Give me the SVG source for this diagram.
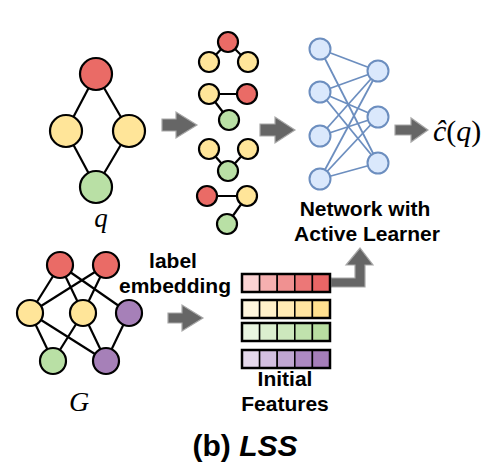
<svg xmlns="http://www.w3.org/2000/svg" width="495" height="465" viewBox="0 0 495 465">
<style>
.e{stroke:#000;stroke-width:2.2;fill:none}
.n{stroke:#000;stroke-width:2.2}
.r{fill:#ea6b66}.y{fill:#ffe599}.g{fill:#b9e0a5}.p{fill:#a680b8}
.nn{fill:#dae8fc;stroke:#6c8ebf;stroke-width:2}
.ne{stroke:#6c8ebf;stroke-width:1.8;fill:none}
.arr{fill:#666;stroke:#a8a8a8;stroke-width:1.2}
.t{font-family:"Liberation Sans",Arial,sans-serif;font-weight:bold;font-size:21px;fill:#000;text-anchor:middle}
.cap{font-size:30px}
.m{font-family:"Liberation Serif","Times New Roman",serif;font-style:italic;fill:#000}
.cell{stroke:#000;stroke-width:1.5}
.bar{fill:none;stroke:#000;stroke-width:2.5}
</style>
<rect width="495" height="465" fill="#fff"/>
<g id="connectors">
  <line class="e" x1="96" y1="74" x2="66" y2="131"/>
  <line class="e" x1="96" y1="74" x2="129" y2="131"/>
  <line class="e" x1="66" y1="131" x2="96" y2="187"/>
  <line class="e" x1="129" y1="131" x2="96" y2="187"/>
  <line class="e" x1="228" y1="42" x2="209" y2="62"/>
  <line class="e" x1="228" y1="42" x2="248" y2="62"/>
  <line class="e" x1="209" y1="94" x2="247" y2="94"/>
  <line class="e" x1="209" y1="94" x2="229" y2="120"/>
  <line class="e" x1="209" y1="149" x2="228" y2="171"/>
  <line class="e" x1="248" y1="149" x2="228" y2="171"/>
  <line class="e" x1="207" y1="196" x2="247" y2="196"/>
  <line class="e" x1="247" y1="196" x2="227" y2="224"/>
  <line class="ne" x1="320" y1="49" x2="378" y2="71"/>
  <line class="ne" x1="320" y1="49" x2="378" y2="163"/>
  <line class="ne" x1="320" y1="92" x2="378" y2="71"/>
  <line class="ne" x1="320" y1="92" x2="378" y2="117"/>
  <line class="ne" x1="320" y1="92" x2="378" y2="163"/>
  <line class="ne" x1="320" y1="136" x2="378" y2="71"/>
  <line class="ne" x1="320" y1="136" x2="378" y2="117"/>
  <line class="ne" x1="320" y1="179" x2="378" y2="71"/>
  <line class="ne" x1="320" y1="179" x2="378" y2="117"/>
  <line class="ne" x1="320" y1="179" x2="378" y2="163"/>
  <line class="e" x1="60" y1="265" x2="30" y2="313"/>
  <line class="e" x1="60" y1="265" x2="83" y2="313"/>
  <line class="e" x1="60" y1="265" x2="129" y2="313"/>
  <line class="e" x1="106" y1="265" x2="30" y2="313"/>
  <line class="e" x1="106" y1="265" x2="83" y2="313"/>
  <line class="e" x1="30" y1="313" x2="53" y2="361"/>
  <line class="e" x1="30" y1="313" x2="106" y2="361"/>
  <line class="e" x1="83" y1="313" x2="53" y2="361"/>
  <line class="e" x1="83" y1="313" x2="106" y2="361"/>
  <line class="e" x1="129" y1="313" x2="106" y2="361"/>
  <polygon class="arr" points="162,119 176,119 176,112 197,125 176,138 176,131 162,131"/>
  <polygon class="arr" points="260,124 275,124 275,117 295,130 275,143 275,136 260,136"/>
  <polygon class="arr" points="395,125 411,125 411,118 428,130 411,142 411,135 395,135"/>
  <polygon class="arr" points="168,313 182,313 182,305 203,318 182,331 182,323 168,323"/>
  <polygon class="arr" points="331,278 355,278 355,265 346,265 360,248 373,265 365,265 365,287 331,287"/>
</g>
<g id="q-graph">
  <circle class="n r" cx="96" cy="74" r="16"/>
  <circle class="n y" cx="66" cy="131" r="16"/>
  <circle class="n y" cx="129" cy="131" r="16"/>
  <circle class="n g" cx="96" cy="187" r="16"/>
  <text class="m" x="101" y="227" font-size="27" text-anchor="middle">q</text>
</g>
<g id="subgraphs">
  <circle class="n r" cx="228" cy="42" r="10"/>
  <circle class="n y" cx="209" cy="62" r="10"/>
  <circle class="n y" cx="248" cy="62" r="10"/>
  <circle class="n y" cx="209" cy="94" r="10"/>
  <circle class="n r" cx="247" cy="94" r="10"/>
  <circle class="n g" cx="229" cy="120" r="10"/>
  <circle class="n y" cx="209" cy="149" r="10"/>
  <circle class="n y" cx="248" cy="149" r="10"/>
  <circle class="n g" cx="228" cy="171" r="10"/>
  <circle class="n r" cx="207" cy="196" r="10"/>
  <circle class="n y" cx="247" cy="196" r="10"/>
  <circle class="n g" cx="227" cy="224" r="10"/>
</g>
<g id="network">
  <circle class="nn" cx="320" cy="49" r="10.5"/>
  <circle class="nn" cx="320" cy="92" r="10.5"/>
  <circle class="nn" cx="320" cy="136" r="10.5"/>
  <circle class="nn" cx="320" cy="179" r="10.5"/>
  <circle class="nn" cx="378" cy="71" r="10.5"/>
  <circle class="nn" cx="378" cy="117" r="10.5"/>
  <circle class="nn" cx="378" cy="163" r="10.5"/>
  <text class="t" x="365" y="216">Network with</text>
  <text class="t" x="367" y="241">Active Learner</text>
</g>
<g id="output">
  <text class="m" x="433" y="141" font-size="30">ĉ<tspan font-style="normal">(</tspan>q<tspan font-style="normal">)</tspan></text>
</g>
<g id="G-graph">
  <circle class="n r" cx="60" cy="265" r="13"/>
  <circle class="n r" cx="106" cy="265" r="13"/>
  <circle class="n y" cx="30" cy="313" r="13"/>
  <circle class="n y" cx="83" cy="313" r="13"/>
  <circle class="n p" cx="129" cy="313" r="13"/>
  <circle class="n g" cx="53" cy="361" r="13"/>
  <circle class="n p" cx="106" cy="361" r="13"/>
  <text class="m" x="79" y="411" font-size="28" text-anchor="middle">G</text>
</g>
<g id="label-embedding">
  <text class="t" x="173" y="268">label</text>
  <text class="t" x="175" y="293">embedding</text>
</g>
<g id="features">
  <rect class="cell" x="242" y="274" width="17.6" height="18" fill="#fad3d3"/>
  <rect class="cell" x="259.6" y="274" width="17.6" height="18" fill="#f5b0b0"/>
  <rect class="cell" x="277.2" y="274" width="17.6" height="18" fill="#f09191"/>
  <rect class="cell" x="294.8" y="274" width="17.6" height="18" fill="#ec7777"/>
  <rect class="cell" x="312.4" y="274" width="17.6" height="18" fill="#e96666"/>
  <rect class="bar" x="242" y="274" width="88" height="18"/>
  <rect class="cell" x="242" y="300" width="17.6" height="18" fill="#fff6de"/>
  <rect class="cell" x="259.6" y="300" width="17.6" height="18" fill="#fff0c9"/>
  <rect class="cell" x="277.2" y="300" width="17.6" height="18" fill="#ffeab4"/>
  <rect class="cell" x="294.8" y="300" width="17.6" height="18" fill="#ffe4a0"/>
  <rect class="cell" x="312.4" y="300" width="17.6" height="18" fill="#ffe08f"/>
  <rect class="bar" x="242" y="300" width="88" height="18"/>
  <rect class="cell" x="242" y="323" width="17.6" height="18" fill="#e9f5e1"/>
  <rect class="cell" x="259.6" y="323" width="17.6" height="18" fill="#dbefcf"/>
  <rect class="cell" x="277.2" y="323" width="17.6" height="18" fill="#cde8bd"/>
  <rect class="cell" x="294.8" y="323" width="17.6" height="18" fill="#c0e2ad"/>
  <rect class="cell" x="312.4" y="323" width="17.6" height="18" fill="#b8dea1"/>
  <rect class="bar" x="242" y="323" width="88" height="18"/>
  <rect class="cell" x="242" y="350" width="17.6" height="18" fill="#e4d8eb"/>
  <rect class="cell" x="259.6" y="350" width="17.6" height="18" fill="#d3bfe1"/>
  <rect class="cell" x="277.2" y="350" width="17.6" height="18" fill="#c0a6d2"/>
  <rect class="cell" x="294.8" y="350" width="17.6" height="18" fill="#ad89c3"/>
  <rect class="cell" x="312.4" y="350" width="17.6" height="18" fill="#a57eba"/>
  <rect class="bar" x="242" y="350" width="88" height="18"/>
  <text class="t" x="285" y="386">Initial</text>
  <text class="t" x="285" y="411">Features</text>
</g>
<g id="caption">
  <text class="t cap" x="245" y="456">(b) <tspan font-style="italic">LSS</tspan></text>
</g>
</svg>
